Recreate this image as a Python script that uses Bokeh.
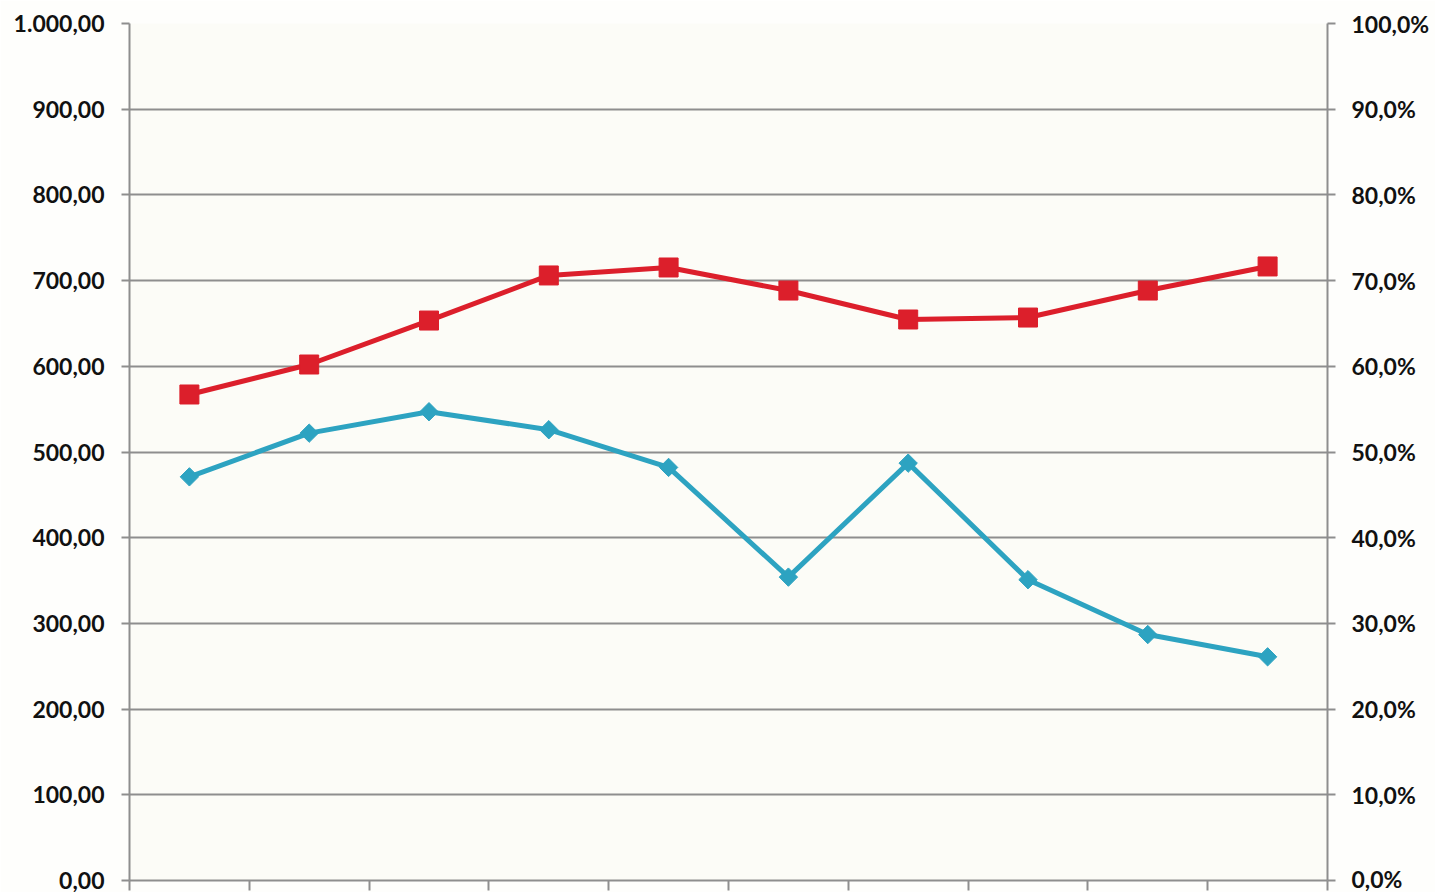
import math
from bokeh.plotting import figure
from bokeh.models import Range1d, LinearAxis, FixedTicker
from bokeh.embed import file_html
from bokeh.resources import INLINE

# Data
categories = list(range(1, 11))
red_values = [567.1, 602.1, 653.4, 706.0, 715.3, 688.4, 654.6, 656.9, 688.4, 716.5]
blue_pct = [0.471, 0.522, 0.547, 0.526, 0.482, 0.354, 0.487, 0.351, 0.287, 0.261]
left_ticks = [0, 100, 200, 300, 400, 500, 600, 700, 800, 900, 1000]
left_labels = ["0,00", "100,00", "200,00", "300,00", "400,00", "500,00",
               "600,00", "700,00", "800,00", "900,00", "1.000,00"]
right_ticks = [0.0, 0.1, 0.2, 0.3, 0.4, 0.5, 0.6, 0.7, 0.8, 0.9, 1.0]
right_labels = ["0,0%", "10,0%", "20,0%", "30,0%", "40,0%", "50,0%",
                "60,0%", "70,0%", "80,0%", "90,0%", "100,0%"]

xs = [c - 0.5 for c in categories]

p = figure(width=1435, height=892, output_backend="svg", toolbar_location=None,
           x_range=Range1d(0, len(categories)), y_range=Range1d(0, 1000),
           min_border_left=129, min_border_right=108, min_border_top=23,
           min_border_bottom=12)
p.extra_y_ranges = {"pct": Range1d(0, 1)}

p.background_fill_color = "#FCFCF7"
p.border_fill_color = "#FEFEFC"
p.outline_line_color = None

font = "Lato"
gray = "#8E8E8E"
fsize = "23px"

# x axis: ticks at category boundaries, no labels
p.xaxis.ticker = FixedTicker(ticks=list(range(0, len(categories) + 1)))
p.xaxis.major_label_overrides = {i: "" for i in range(0, len(categories) + 1)}
p.xaxis.major_label_standoff = 0
p.xaxis.major_tick_out = 10
p.xaxis.major_tick_in = 0
p.xaxis.minor_tick_line_color = None
p.xaxis.axis_line_color = gray
p.xaxis.axis_line_width = 2
p.xaxis.major_tick_line_color = gray
p.xaxis.major_tick_line_width = 2
p.xgrid.grid_line_color = None

# left axis
ya = p.yaxis[0]
ya.ticker = FixedTicker(ticks=left_ticks)
ya.major_label_overrides = {t: l for t, l in zip(left_ticks, left_labels)}
ya.major_label_text_font = font
ya.major_label_text_font_style = "bold"
ya.major_label_text_font_size = fsize
ya.major_label_text_color = "#111111"
ya.major_label_standoff = 17
ya.major_tick_out = 8
ya.major_tick_in = 0
ya.minor_tick_line_color = None
ya.axis_line_color = gray
ya.axis_line_width = 2
ya.major_tick_line_color = gray
ya.major_tick_line_width = 2
p.ygrid.ticker = FixedTicker(ticks=left_ticks)
p.ygrid.grid_line_color = gray
p.ygrid.grid_line_width = 2

# right axis
ra = LinearAxis(y_range_name="pct", ticker=FixedTicker(ticks=right_ticks))
ra.major_label_overrides = {t: l for t, l in zip(right_ticks, right_labels)}
ra.major_label_text_font = font
ra.major_label_text_font_style = "bold"
ra.major_label_text_font_size = fsize
ra.major_label_text_color = "#111111"
ra.major_label_standoff = 16
ra.major_tick_out = 8
ra.major_tick_in = 0
ra.minor_tick_line_color = None
ra.axis_line_color = gray
ra.axis_line_width = 2
ra.major_tick_line_color = gray
ra.major_tick_line_width = 2
p.add_layout(ra, "right")

red = "#DC1F2B"
blue = "#2DA3C1"

p.line(xs, red_values, line_color=red, line_width=5)
p.scatter(xs, red_values, marker="square", size=19, fill_color=red, line_color=red)

p.line(xs, blue_pct, y_range_name="pct", line_color=blue, line_width=5)
p.scatter(xs, blue_pct, y_range_name="pct", marker="square", size=13, angle=math.pi / 4,
          fill_color=blue, line_color=blue)

open("out.html", "w").write(file_html(p, INLINE))
